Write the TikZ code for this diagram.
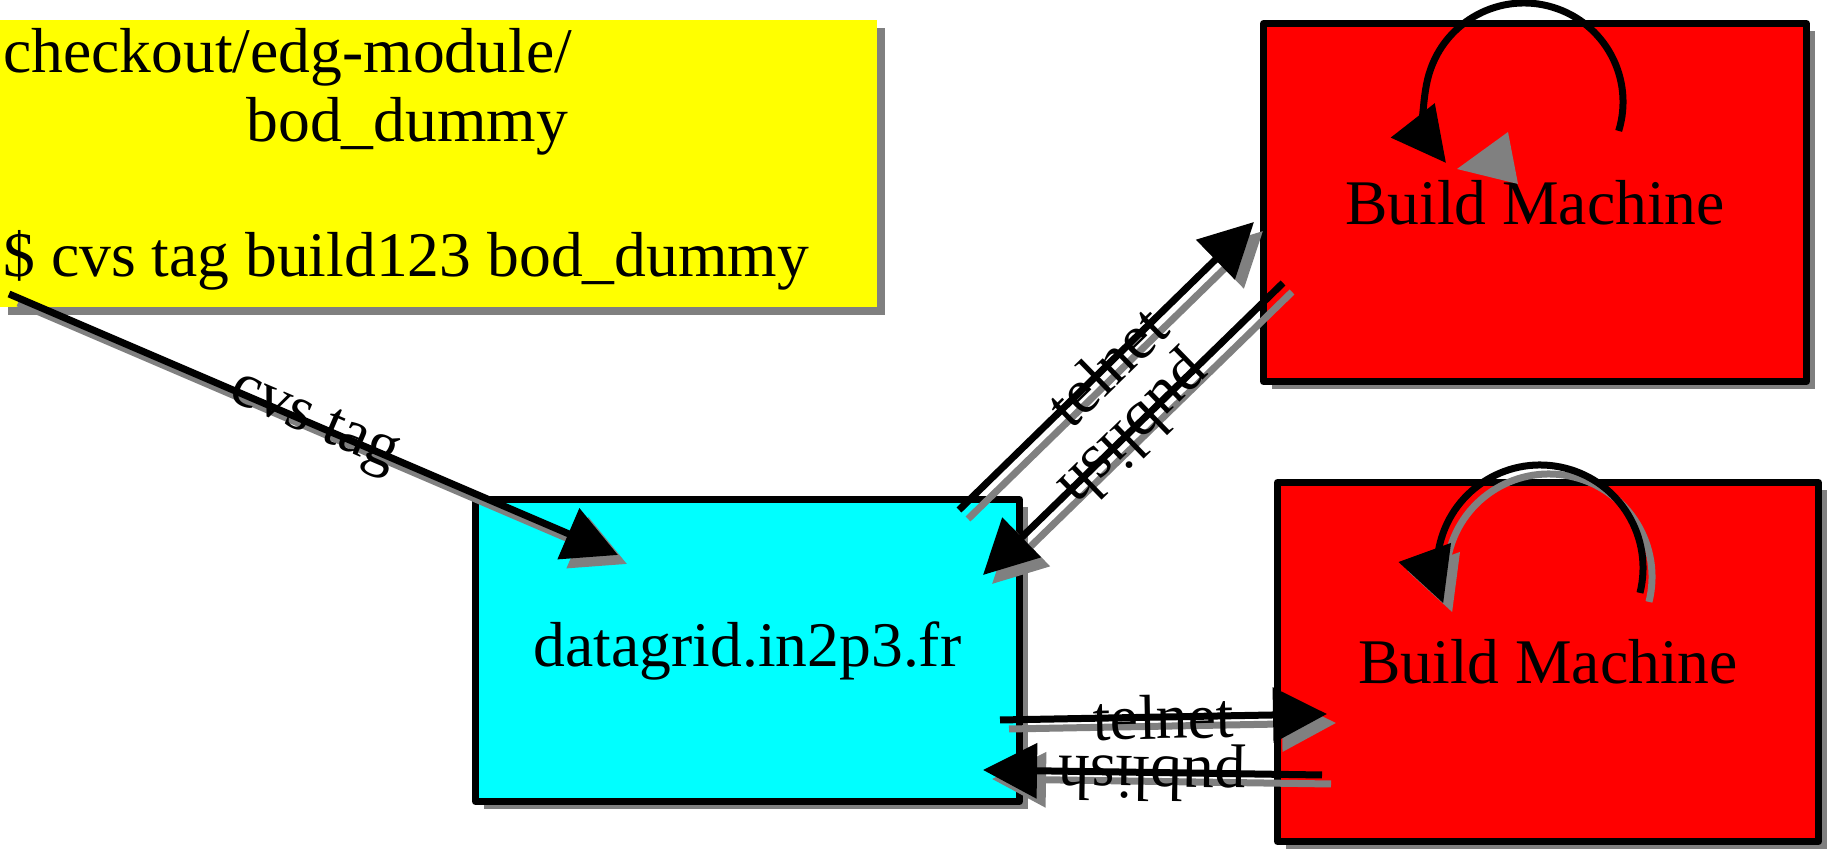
\documentclass[tikz,border=0pt]{standalone}
\usepackage{fontspec}
\setmainfont{Liberation Serif}
\usetikzlibrary{arrows.meta,shadows}
\newcommand\figfont{\fontsize{31.8}{38}\selectfont}
\definecolor{notefill}{RGB}{255,255,0}
\definecolor{hostfill}{RGB}{0,255,255}
\definecolor{buildfill}{RGB}{255,0,0}
\definecolor{shadowgray}{RGB}{128,128,128}

\tikzset{
  box/.style={draw=black,line width=3.5pt,line join=round,font=\figfont,
    drop shadow={shadow xshift=4pt,shadow yshift=-4pt,fill=shadowgray,opacity=1}},
  link/.style={line width=3.5pt,-{Triangle[length=27pt,width=27pt]},
    preaction={draw=shadowgray,line width=3.5pt,transform canvas={shift={(4.5pt,-4.5pt)}}}},
  lbl/.style={sloped,allow upside down,inner sep=0pt,font=\figfont},
}

\begin{document}
\begin{tikzpicture}[x=0.5pt,y=0.5pt]
\useasboundingbox (0,0) rectangle (1829,854);

% the note with the cvs command
\node[box,draw=none,fill=notefill,minimum width=438.5pt,minimum height=143.5pt] (note) at (438.5,690.5) {};
\node[anchor=base west,inner sep=0pt,font=\figfont] (line1) at (3,781) {checkout/edg-module/};
\node[anchor=base west,inner sep=0pt,font=\figfont] (line2) at (246,712) {bod\_dummy};
\node[anchor=base west,inner sep=0pt,font=\figfont] (line3) at (3,577) {\$ cvs tag build123 bod\_dummy};

% server and build machines
\node[box,fill=hostfill,minimum width=272pt,minimum height=151pt] (server) at (747.5,203.5) {datagrid.in2p3.fr};
\node[box,fill=buildfill,minimum width=271.5pt,minimum height=179pt] (buildA) at (1535,651.5) {Build Machine};
\node[box,fill=buildfill,minimum width=270.5pt,minimum height=179.5pt] (buildB) at (1548,192) {Build Machine};

% end points of the links
\coordinate (tagfrom) at ([shift={(-429.5,-130.5)}]note.center);
\coordinate (tagto) at ([shift={(-129.5,95.5)}]server.center);
\coordinate (telAfrom) at ([shift={(211.5,140.5)}]server.center);
\coordinate (telAto) at ([shift={(-281,-19.5)}]buildA.center);
\coordinate (pubAfrom) at ([shift={(-252,-80.5)}]buildA.center);
\coordinate (pubAto) at ([shift={(235.5,75.5)}]server.center);
\coordinate (telBfrom) at ([shift={(252.5,-69.5)}]server.center);
\coordinate (telBto) at ([shift={(-221,-52)}]buildB.center);
\coordinate (pubBfrom) at ([shift={(-226,-113)}]buildB.center);
\coordinate (pubBto) at ([shift={(235.5,-119.5)}]server.center);
\coordinate (loopA) at ([shift={(-11,100.5)}]buildA.center);
\coordinate (loopB) at ([shift={(-8,94)}]buildB.center);

\draw[link] (tagfrom) -- node[lbl] {cvs tag} (tagto);
\draw[link] (telAfrom) -- node[lbl] {telnet} (telAto);
\draw[link] (pubAfrom) -- node[lbl] {publish} (pubAto);
\draw[link] (telBfrom) -- node[lbl] {telnet} (telBto);
\draw[link] (pubBfrom) -- node[lbl] {publish} (pubBto);

% build loops
\fill[shadowgray] ([shift={(-78,33.5)}]buildA.center) -- ([shift={(-27,70.5)}]buildA.center)
  -- ([shift={(-17,18.5)}]buildA.center) -- cycle;
\draw[line width=3.5pt,-{Triangle[length=27pt,width=27pt]}] ([shift={(-17:99)}]loopA) arc[start angle=-17,end angle=218,radius=99];
\draw[link] ([shift={(-14:103)}]loopB) arc[start angle=-14,end angle=200,radius=103];
\end{tikzpicture}
\end{document}
